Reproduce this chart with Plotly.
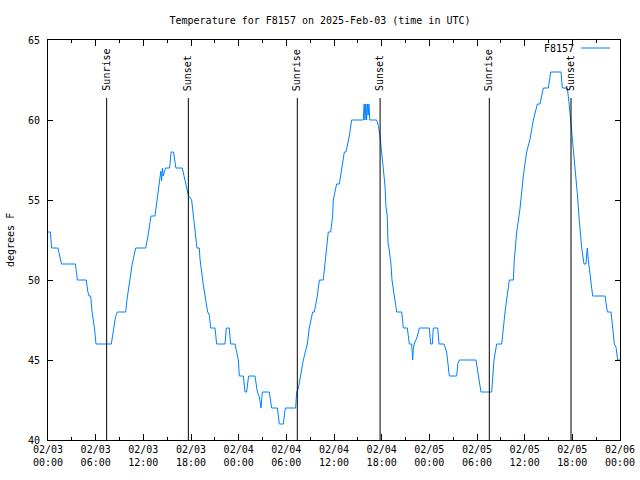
import pandas as pd
import plotly.graph_objects as go

# ---- data (hours since 2025-02-03 00:00 UTC, temperature in F) ----
hours = [0.0, 0.3, 0.45, 1.25, 1.7, 3.45, 3.7, 4.82, 5.0, 5.16, 5.37, 5.55, 5.85, 6.04,
         7.97, 8.3, 8.5, 8.72, 9.78, 9.95, 10.1, 10.25, 10.45, 10.6, 11.04, 12.3,
         12.6, 12.96, 13.47, 13.7, 14.0, 14.2, 14.3, 14.4, 14.5, 14.8, 15.3, 15.5, 15.8,
         16.1, 16.9, 17.3, 17.66, 18.08, 18.3, 18.71, 18.75, 19.05, 19.13, 19.55, 19.97,
         20.1, 20.3, 20.48, 21.02, 21.23, 22.28, 22.45, 22.82, 22.99, 23.54, 23.75, 23.96,
         24.08, 24.59, 24.8, 25.0, 25.25, 26.06, 26.35, 26.6, 26.81, 26.98, 27.86, 28.15,
         28.87, 29.12, 29.62, 29.87, 31.17, 31.3, 31.5, 31.8, 32.14, 32.64, 32.89, 33.31,
         33.52, 33.9, 34.15, 34.65, 34.95, 35.07, 35.28, 35.58, 35.83, 35.91, 36.33, 36.67,
         36.96, 37.3, 37.5, 37.93, 38.22, 39.69, 39.8, 39.9, 40.0, 40.1, 40.2, 40.3, 40.4,
         40.5, 41.37, 41.6, 41.79, 42.0, 42.2, 42.4, 42.54, 42.7, 42.8, 42.92, 43.17, 43.3,
         43.59, 43.89, 44.52, 44.73, 45.23, 45.48, 45.78, 45.9, 46.0, 46.11, 46.5, 46.74,
         48.0, 48.17, 48.38, 48.5, 49.05, 49.22, 49.85, 50.18, 50.52, 51.44, 51.6, 51.78,
         53.87, 54.21, 54.5, 55.85, 56.06, 56.14, 56.3, 56.48, 57.11, 57.3, 57.53, 57.74,
         58.07, 58.58, 58.7, 59.0, 59.4, 59.83, 60.25, 60.67, 61.09, 61.6, 61.93, 62.35,
         62.98, 63.28, 64.58, 64.74, 65.37, 65.6, 65.84, 66.25, 66.63, 66.88, 67.18, 67.47,
         67.72, 67.82, 67.89, 68.0, 68.23, 68.56, 70.12, 70.41, 70.87, 71.1, 71.29, 71.5,
         71.71, 72.0]
temps = [53, 53, 52, 52, 51, 51, 50, 50, 49.3, 49, 49, 48, 47, 46,
         46, 47, 47.7, 48, 48, 48.8, 49.3, 49.7, 50.6, 51, 52, 52,
         52.8, 54, 54, 55, 56, 56.8, 56.2, 57, 56.5, 57, 57, 58, 58,
         57, 57, 56, 55.3, 55, 54, 52.3, 52, 52, 51.3, 49.7, 48.2,
         48, 47.8, 47, 47, 46, 46, 47, 47, 46, 46, 45.5, 45,
         44, 44, 43, 43, 44, 44, 43, 42.7, 42, 43, 43, 42,
         42, 41, 41, 42, 42, 43, 43.2, 44, 45, 46, 47, 48,
         48, 49, 50, 50, 51.5, 52, 53, 53, 54, 55, 56, 56,
         57, 58, 58, 59, 60, 60, 61, 60, 61, 60, 61, 60.3, 61,
         60, 60, 59.6, 59, 58, 57, 56, 54.6, 54, 52.3, 52, 51, 50,
         49, 48, 48, 47, 47, 46, 46, 45, 45.8, 46, 46.5, 47,
         47, 46, 46, 47, 47, 46, 46, 45.5, 44, 44, 44.8, 45,
         45, 44, 43, 43, 44.5, 45, 45.5, 46, 46, 47, 48, 48.8,
         50, 50, 51.3, 53, 54.4, 56.5, 58, 58.8, 60, 61, 61, 62,
         62, 63, 63, 62, 62, 61, 59.8, 57.5, 55.4, 53.7, 52, 51,
         51, 51.7, 52, 51.3, 50.4, 49, 49, 48, 48, 47, 46, 45.8,
         45, 45]

sun_times = ["2025-02-03 07:23", "2025-02-03 17:40", "2025-02-04 07:23",
             "2025-02-04 17:48", "2025-02-05 07:33", "2025-02-05 17:50"]
sun_labels = ["Sunrise", "Sunset", "Sunrise", "Sunset", "Sunrise", "Sunset"]

station = "F8157"
title_text = "Temperature for F8157 on 2025-Feb-03 (time in UTC)"
y_title = "degrees F"
x_start, x_end = "2025-02-03 00:00", "2025-02-06 00:00"
y_ticks = [40, 45, 50, 55, 60, 65]

# ---- build figure ----
base = pd.Timestamp(x_start)
times = base + pd.to_timedelta(hours, unit="h")
tick_times = pd.date_range(x_start, x_end, freq="6h")
tick_text = [t.strftime("%m/%d<br>%H:%M") for t in tick_times]

FONT = "DejaVu Sans Mono"
BLUE = "#0080ff"

fig = go.Figure()
fig.add_trace(go.Scatter(x=times, y=temps, mode="lines", name=station,
                         line=dict(color=BLUE, width=1), showlegend=False))

shapes = []
annotations = []
for t, lab in zip(sun_times, sun_labels):
    shapes.append(dict(type="line", xref="x", yref="paper", x0=t, x1=t, y0=0, y1=0.855,
                       line=dict(color="black", width=1)))
    annotations.append(dict(x=t, y=0.8675, xref="x", yref="paper", text=lab,
                            textangle=-90, showarrow=False, xanchor="center",
                            yanchor="bottom", font=dict(family=FONT, size=10, color="black")))

# legend (text then sample line, gnuplot style)
annotations.append(dict(x=0.923, y=0.98, xref="paper", yref="paper", text=station,
                        showarrow=False, xanchor="right", yanchor="middle",
                        font=dict(family=FONT, size=10, color="black")))
shapes.append(dict(type="line", xref="paper", yref="paper", x0=0.9318, x1=0.9825,
                   y0=0.98, y1=0.98, line=dict(color=BLUE, width=1)))

# y-axis title
annotations.append(dict(x=-0.0664, y=0.5, xref="paper", yref="paper", text=y_title,
                        textangle=-90, showarrow=False, xanchor="center", yanchor="middle",
                        font=dict(family=FONT, size=10, color="black")))

fig.update_layout(
    width=640, height=480,
    margin=dict(l=48, r=20, t=40, b=40, autoexpand=False),
    paper_bgcolor="white", plot_bgcolor="white",
    font=dict(family=FONT, size=10, color="black"),
    title=dict(text=title_text, x=0.5, xanchor="center", y=0.958, yanchor="middle",
               font=dict(family=FONT, size=10, color="black")),
    shapes=shapes, annotations=annotations,
)
fig.update_xaxes(
    type="date", range=[x_start, x_end], automargin=False,
    tickvals=tick_times, ticktext=tick_text,
    ticks="inside", ticklen=6, tickcolor="black", tickwidth=1,
    minor=dict(dtick=3 * 3600 * 1000, ticks="inside", ticklen=3, tickcolor="black", showgrid=False),
    showline=True, linecolor="black", linewidth=1, mirror="allticks",
    showgrid=False, zeroline=False,
)
fig.update_yaxes(
    range=[40, 65], tickvals=y_ticks, automargin=False, ticklabelstandoff=5,
    ticks="inside", ticklen=5, tickcolor="black", tickwidth=1,
    showline=True, linecolor="black", linewidth=1, mirror="allticks",
    showgrid=False, zeroline=False,
)

fig.write_html("out.html", config={"displayModeBar": False},
               post_script="document.body.style.margin='0px';document.body.style.padding='0px';")
